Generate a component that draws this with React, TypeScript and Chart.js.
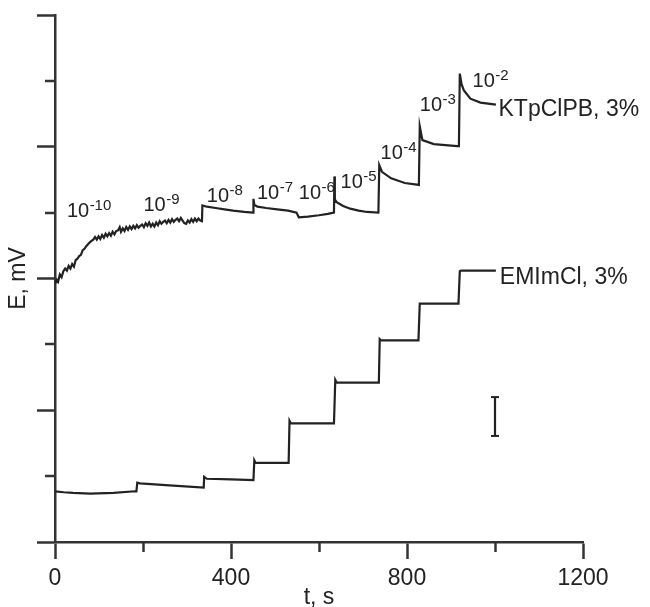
import React, { useEffect, useRef } from 'react';
import { Chart, registerables } from 'chart.js';
Chart.register(...registerables);

const FONT = '"Liberation Sans", Arial, Helvetica, sans-serif';
const INK = '#222222';
const AXIS = '#333333';

// KTpClPB, 3% membrane (time, s / potential, arbitrary mV units)
const kTime = [
  0, 4, 7, 11, 15, 19, 23, 27, 31, 35, 39, 43, 47, 51, 55, 59, 63, 67, 71, 75, 79, 83, 87, 91, 95, 99,
  103, 107, 111, 115, 119, 123, 127, 131, 135, 139, 143, 147, 150, 154, 158, 162, 166, 170, 174, 178,
  182, 186, 190, 194, 198, 202, 206, 210, 214, 218, 222, 226, 230, 234, 238, 242, 246, 250, 254, 258,
  262, 266, 270, 274, 278, 282, 286, 290, 294, 298, 302, 306, 310, 314, 318, 322, 326, 330, 334,
  335, 345, 365, 385, 405, 430, 450, 451, 453, 460, 480, 505, 530, 549, 554, 575, 600, 620, 634,
  635, 636, 640, 655, 671, 690, 709, 735, 737, 743, 764, 795, 827, 829, 835, 861, 914, 918, 920,
  924, 929, 944, 967, 1002,
];
const kE = [
  3.92, 3.98, 3.95, 4.06, 4.02, 4.11, 4.15, 4.12, 4.19, 4.15, 4.22, 4.18, 4.28, 4.3, 4.34, 4.36, 4.43,
  4.45, 4.49, 4.52, 4.55, 4.57, 4.59, 4.63, 4.59, 4.64, 4.6, 4.66, 4.62, 4.68, 4.64, 4.69, 4.65, 4.71,
  4.67, 4.72, 4.73, 4.78, 4.71, 4.76, 4.72, 4.78, 4.74, 4.79, 4.75, 4.8, 4.76, 4.81, 4.77, 4.8, 4.82,
  4.78, 4.84, 4.8, 4.85, 4.79, 4.83, 4.79, 4.85, 4.81, 4.87, 4.83, 4.86, 4.88, 4.84, 4.89, 4.85, 4.9,
  4.86, 4.89, 4.91, 4.87, 4.92, 4.88, 4.84, 4.83, 4.88, 4.85, 4.9, 4.86, 4.91, 4.87, 4.91, 4.88, 4.87,
  5.11, 5.09, 5.07, 5.05, 5.03, 5.01, 5.0, 5.21, 5.12, 5.09, 5.07, 5.05, 5.03, 5.0, 4.93, 4.94, 4.96,
  4.98, 5.0, 5.55, 5.2, 5.16, 5.1, 5.06, 5.03, 5.01, 5.0, 5.72, 5.62, 5.52, 5.45, 5.42, 6.31, 6.1,
  6.04, 6.01, 6.01, 7.11, 6.95, 6.86, 6.73, 6.67, 6.64,
];

// EMImCl, 3% membrane
const eTime = [
  0, 20, 41, 80, 133, 182, 185, 187, 193, 260, 338, 339, 345, 400, 451, 453, 456, 531, 533, 536, 634,
  637, 640, 736, 738, 741, 826, 829, 917, 920, 923, 1002,
];
const eE = [
  0.77, 0.755, 0.745, 0.735, 0.745, 0.77, 0.77, 0.9, 0.89, 0.86, 0.826, 0.99, 0.96, 0.95, 0.94, 1.24,
  1.2, 1.2, 1.84, 1.8, 1.8, 2.46, 2.42, 2.42, 3.08, 3.06, 3.06, 3.62, 3.62, 4.11, 4.12, 4.12,
];

// scale bar
const barTime = [1000, 1000];
const barE = [1.61, 2.2];

// concentration labels 10^exp
const concExp = ['-10', '-9', '-8', '-7', '-6', '-5', '-4', '-3', '-2'];
const concT = [27, 201, 345, 459, 554, 649, 740, 829, 949];
const concE = [4.93, 5.02, 5.16, 5.2, 5.2, 5.37, 5.81, 6.54, 6.91];

// series labels
const seriesNames = ['KTpClPB, 3%', 'EMImCl, 3%'];
const seriesLabelT = [1008, 1011];
const seriesLabelE = [6.47, 3.91];

const xMajorTicks = [0, 400, 800, 1200];
const xMinorTicks = [200, 600, 1000];
const yMajorTicks = [0, 2, 4, 6, 8];
const yMinorTicks = [1, 3, 5, 7];

const toPts = (xs: number[], ys: number[]) => xs.map((x, i) => ({ x, y: ys[i] }));

const annotPlugin = {
  id: 'annot',
  afterDraw(chart: any) {
    const { ctx, scales } = chart;
    const xs = scales.x;
    const ys = scales.y;
    ctx.save();
    // minor ticks
    ctx.strokeStyle = AXIS;
    ctx.lineWidth = 2.5;
    const axisY = ys.getPixelForValue(0);
    const axisX = xs.getPixelForValue(0);
    xMinorTicks.forEach((v) => {
      const px = Math.round(xs.getPixelForValue(v)) + 0.5;
      ctx.beginPath();
      ctx.moveTo(px, axisY);
      ctx.lineTo(px, axisY + 10);
      ctx.stroke();
    });
    yMinorTicks.forEach((v) => {
      const py = Math.round(ys.getPixelForValue(v));
      ctx.beginPath();
      ctx.moveTo(axisX, py);
      ctx.lineTo(axisX - 10, py);
      ctx.stroke();
    });
    // concentration labels
    ctx.fillStyle = INK;
    ctx.textBaseline = 'alphabetic';
    ctx.textAlign = 'left';
    concExp.forEach((e, i) => {
      const px = xs.getPixelForValue(concT[i]);
      const py = ys.getPixelForValue(concE[i]);
      ctx.font = `20px ${FONT}`;
      ctx.fillText('10', px, py);
      const w = ctx.measureText('10').width;
      ctx.font = `15px ${FONT}`;
      ctx.fillText(e, px + w + 0.5, py - 7);
    });
    ctx.font = `23px ${FONT}`;
    seriesNames.forEach((s, i) => {
      ctx.fillText(s, xs.getPixelForValue(seriesLabelT[i]), ys.getPixelForValue(seriesLabelE[i]));
    });
    ctx.restore();
  },
};

export default function App() {
  const ref = useRef<HTMLCanvasElement>(null);
  useEffect(() => {
    if (!ref.current) return;
    const chart = new Chart(ref.current, {
      type: 'line',
      data: {
        datasets: [
          {
            data: toPts(kTime, kE),
            borderColor: INK,
            borderWidth: 2.2,
            pointRadius: 0,
            tension: 0,
          },
          {
            data: toPts(eTime, eE),
            borderColor: INK,
            borderWidth: 2.2,
            pointRadius: 0,
            tension: 0,
          },
          {
            data: toPts(barTime, barE),
            borderColor: INK,
            borderWidth: 2.2,
            pointStyle: 'line',
            pointRadius: 4,
            pointBorderWidth: 2,
            pointBorderColor: INK,
            tension: 0,
          },
        ],
      },
      options: {
        animation: false,
        responsive: true,
        maintainAspectRatio: false,
        layout: { padding: { top: 15, right: 67, left: 0, bottom: 0 } },
        plugins: { legend: { display: false }, tooltip: { enabled: false } },
        scales: {
          x: {
            type: 'linear',
            min: 0,
            max: 1200,
            afterBuildTicks: (s: any) => {
              s.ticks = [...xMajorTicks, ...xMinorTicks].sort((a, b) => a - b).map((v) => ({ value: v }));
            },
            afterFit: (s: any) => {
              s.height = 65;
            },
            ticks: {
              callback: (v: any) => (xMajorTicks.includes(Number(v)) ? String(v) : ''),
              color: INK,
              font: { family: FONT, size: 23 },
              padding: 6,
              maxRotation: 0,
              autoSkip: false,
            },
            grid: {
              drawOnChartArea: false,
              drawTicks: true,
              tickLength: 17,
              tickWidth: (c: any) => (c.tick && xMajorTicks.includes(c.tick.value) ? 2.5 : 0),
              tickColor: AXIS,
            },
            border: { display: true, color: AXIS, width: 2.5 },
            title: {
              display: true,
              text: 't, s',
              color: INK,
              font: { family: FONT, size: 23, lineHeight: 0.8 },
              padding: { top: 0, bottom: 0 },
            },
          },
          y: {
            type: 'linear',
            min: 0,
            max: 8,
            afterBuildTicks: (s: any) => {
              s.ticks = [...yMajorTicks, ...yMinorTicks].sort((a, b) => a - b).map((v) => ({ value: v }));
            },
            afterFit: (s: any) => {
              s.width = 55;
            },
            ticks: {
              callback: () => '',
              autoSkip: false,
              padding: 0,
            },
            grid: {
              drawOnChartArea: false,
              drawTicks: true,
              tickLength: 18,
              tickWidth: (c: any) => (c.tick && yMajorTicks.includes(c.tick.value) ? 2.5 : 0),
              tickColor: AXIS,
            },
            border: { display: true, color: AXIS, width: 2.5 },
            title: {
              display: true,
              text: 'E, mV',
              color: INK,
              font: { family: FONT, size: 23, lineHeight: 1.2 },
              padding: { top: 5, bottom: 0 },
            },
          },
        },
      },
      plugins: [annotPlugin],
    });
    return () => chart.destroy();
  }, []);
  return (
    <div style={{ position: 'fixed', left: 0, top: 0, width: 650, height: 607, background: '#fff' }}>
      <canvas ref={ref} />
    </div>
  );
}
